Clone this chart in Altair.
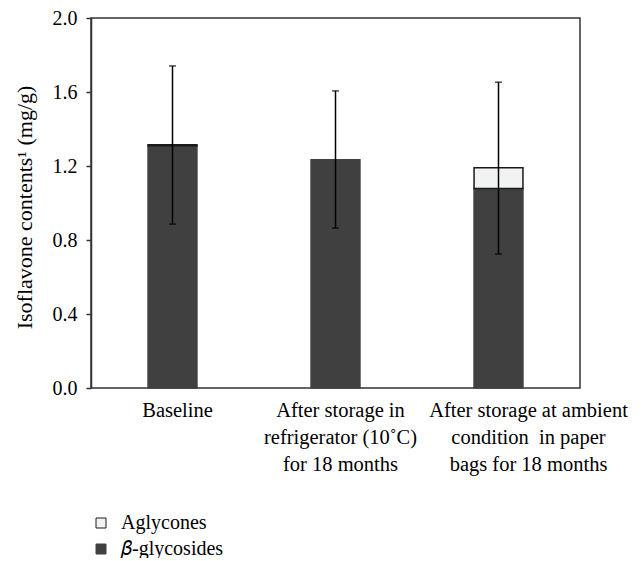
import altair as alt
import pandas as pd

categories = [
    "Baseline",
    "After storage in|refrigerator (10˚C)|for 18 months",
    "After storage at ambient|condition\u00a0 in paper|bags for 18 months",
]
glycosides = [1.31, 1.234, 1.078]
aglycones = [0.005, 0.0, 0.112]
err_low = [0.886, 0.864, 0.724]
err_high = [1.741, 1.606, 1.653]
y_ticks = [0.0, 0.4, 0.8, 1.2, 1.6, 2.0]

comp_names = ["Aglycones", "𝛽-glycosides"]

rows = []
for c, g, a in zip(categories, glycosides, aglycones):
    rows.append({"cat": c, "component": comp_names[1], "value": g, "ord": 0})
    rows.append({"cat": c, "component": comp_names[0], "value": a, "ord": 1})
bars_df = pd.DataFrame(rows)
err_df = pd.DataFrame({"cat": categories, "lo": err_low, "hi": err_high})

FONT = "Liberation Serif, DejaVu Serif, serif"

x_enc = alt.X(
    "cat:N",
    sort=categories,
    scale=alt.Scale(paddingInner=0.7, paddingOuter=0.35),
    axis=alt.Axis(
        title=None,
        labelExpr="split(datum.label, '|')",
        labelAngle=0,
        labelLimit=0,
        labelFont=FONT,
        labelFontSize=20.5,
        labelColor="#000000",
        labelLineHeight=27,
        labelPadding=12,
        ticks=False,
        domain=False,
        labelOffset={
            "condition": {"test": "indexof(datum.value, 'ambient') >= 0", "value": 30},
            "value": 5,
        },
    ),
)

y_scale = alt.Scale(domain=[0, 2], nice=False)

bars = alt.Chart(bars_df).transform_filter("datum.value > 0").mark_bar(strokeWidth=1.5).encode(
    x=x_enc,
    y=alt.Y(
        "value:Q",
        stack="zero",
        scale=y_scale,
        axis=alt.Axis(
            title="Isoflavone contents¹ (mg/g)",
            titleFont=FONT,
            titleFontSize=22,
            titleFontWeight="normal",
            titleColor="#000000",
            titleX=-55,
            titleY=189,
            values=y_ticks,
            format=".1f",
            labelFont=FONT,
            labelFontSize=20,
            labelColor="#000000",
            labelPadding=9,
            tickSize=5,
            tickColor="#333333",
            tickWidth=1.5,
            domainColor="#333333",
            domainWidth=1.5,
            grid=False,
        ),
    ),
    color=alt.Color(
        "component:N",
        scale=alt.Scale(domain=comp_names, range=["#f1f3f2", "#404040"]),
        legend=alt.Legend(
            title=None,
            orient="none",
            legendX=0,
            legendY=495,
            direction="vertical",
            symbolType="square",
            symbolSize=100,
            symbolStrokeColor="#1a1a1a",
            symbolStrokeWidth=1,
            labelFont=FONT,
            labelFontSize=20,
            labelColor="#000000",
            labelOffset=10,
            rowPadding=6,
        ),
    ),
    stroke=alt.Stroke(
        "component:N",
        scale=alt.Scale(domain=comp_names, range=["#1a1a1a", "#404040"]),
        legend=None,
    ),
    order=alt.Order("ord:Q"),
)

rules = alt.Chart(err_df).mark_rule(color="#000000", strokeWidth=1.5).encode(
    x=alt.X("cat:N", sort=categories),
    y=alt.Y("lo:Q", scale=y_scale),
    y2="hi:Q",
)
cap_lo = alt.Chart(err_df).mark_tick(color="#000000", size=7, thickness=1.5).encode(
    x=alt.X("cat:N", sort=categories),
    y=alt.Y("lo:Q", scale=y_scale),
)
cap_hi = alt.Chart(err_df).mark_tick(color="#000000", size=7, thickness=1.5).encode(
    x=alt.X("cat:N", sort=categories),
    y=alt.Y("hi:Q", scale=y_scale),
)

chart = (
    alt.layer(bars, rules, cap_lo, cap_hi)
    .properties(
        width=489,
        height=370,
        autosize=alt.AutoSizeParams(type="none"),
        padding={"left": 83, "top": 10, "right": 55, "bottom": 170},
        background="#ffffff",
    )
    .configure_view(stroke="#333333", strokeWidth=1.5)
)

chart.save("out.html", embed_options={"renderer": "svg", "actions": False})
